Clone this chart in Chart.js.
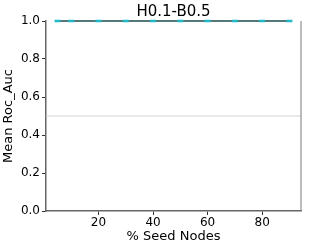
<!DOCTYPE html>
<html>
<head>
<meta charset="utf-8">
<script src="https://cdn.jsdelivr.net/npm/chart.js@4/dist/chart.umd.min.js"></script>
<style>
  html, body { margin: 0; padding: 0; background: #fff; }
  #wrap { width: 309px; height: 249px; }
</style>
</head>
<body>
<div id="wrap"><canvas id="chart"></canvas></div>
<script>
// values
const seedPercents = [5, 10, 20, 30, 40, 50, 60, 70, 80, 90]
const meanRocAuc = [1.0, 1.0, 1.0, 1.0, 1.0, 1.0, 1.0, 1.0, 1.0, 1.0]
const xTicks = [20, 40, 60, 80]
const baseline = 0.5

const font = 'DejaVu Sans'

// gray reference line at 0.5 and the right frame edge
const extras = {
    id: 'extras',
    beforeDatasetsDraw(chart) {
        const { ctx, chartArea: a, scales } = chart
        const y = scales.y.getPixelForValue(baseline)
        ctx.save()
        ctx.strokeStyle = '#d4d4d4'
        ctx.lineWidth = 1
        ctx.beginPath()
        ctx.moveTo(a.left, y)
        ctx.lineTo(a.right, y)
        ctx.stroke()
        ctx.strokeStyle = '#7a7a7a'
        ctx.beginPath()
        ctx.moveTo(a.right, a.top)
        ctx.lineTo(a.right, a.bottom)
        ctx.stroke()
        ctx.restore()
    }
}

new Chart(document.getElementById('chart'), {
    type: 'line',
    data: {
        labels: seedPercents,
        datasets: [{
            data: seedPercents.map((x, i) => ({ x: x, y: meanRocAuc[i] })),
            borderColor: '#1e4a4a',
            borderWidth: 1.5,
            pointStyle: 'line',
            pointRadius: 3,
            pointBorderWidth: 2.5,
            pointBorderColor: '#22b8c8',
            pointBackgroundColor: '#22b8c8',
            clip: false
        }]
    },
    options: {
        responsive: true,
        maintainAspectRatio: false,
        animation: false,
        layout: { padding: { right: 8 } },
        plugins: {
            legend: { display: false },
            tooltip: { enabled: false },
            title: {
                display: true,
                fullSize: false,
                text: 'H0.1-B0.5',
                color: '#000',
                font: { family: font, size: 15, weight: 'normal' },
                padding: { top: 3, bottom: 0 }
            }
        },
        scales: {
            x: {
                type: 'linear',
                min: 0.75,
                max: 94.25,
                afterBuildTicks: s => { s.ticks = xTicks.map(v => ({ value: v })) },
                afterFit: s => { s.height = 38 },
                grid: { drawOnChartArea: false, tickLength: 4, color: '#333' },
                border: { color: '#666', width: 1.5 },
                ticks: { color: '#000', font: { family: font, size: 12 }, padding: 1, maxRotation: 0 },
                title: {
                    display: true,
                    text: '% Seed Nodes',
                    color: '#000',
                    font: { family: font, size: 13 },
                    padding: { top: 0, bottom: 5 }
                }
            },
            y: {
                min: 0,
                max: 1,
                afterFit: s => { s.width = 46 },
                grid: { drawOnChartArea: false, tickLength: 4, color: '#333' },
                border: { color: '#666', width: 1.5 },
                ticks: {
                    stepSize: 0.2,
                    color: '#000',
                    font: { family: font, size: 12 },
                    padding: 2,
                    callback: v => v.toFixed(1)
                },
                title: {
                    display: true,
                    text: 'Mean Roc_Auc',
                    color: '#000',
                    font: { family: font, size: 13 },
                    padding: { top: 1, bottom: 0 }
                }
            }
        }
    },
    plugins: [extras]
})
</script>
</body>
</html>
